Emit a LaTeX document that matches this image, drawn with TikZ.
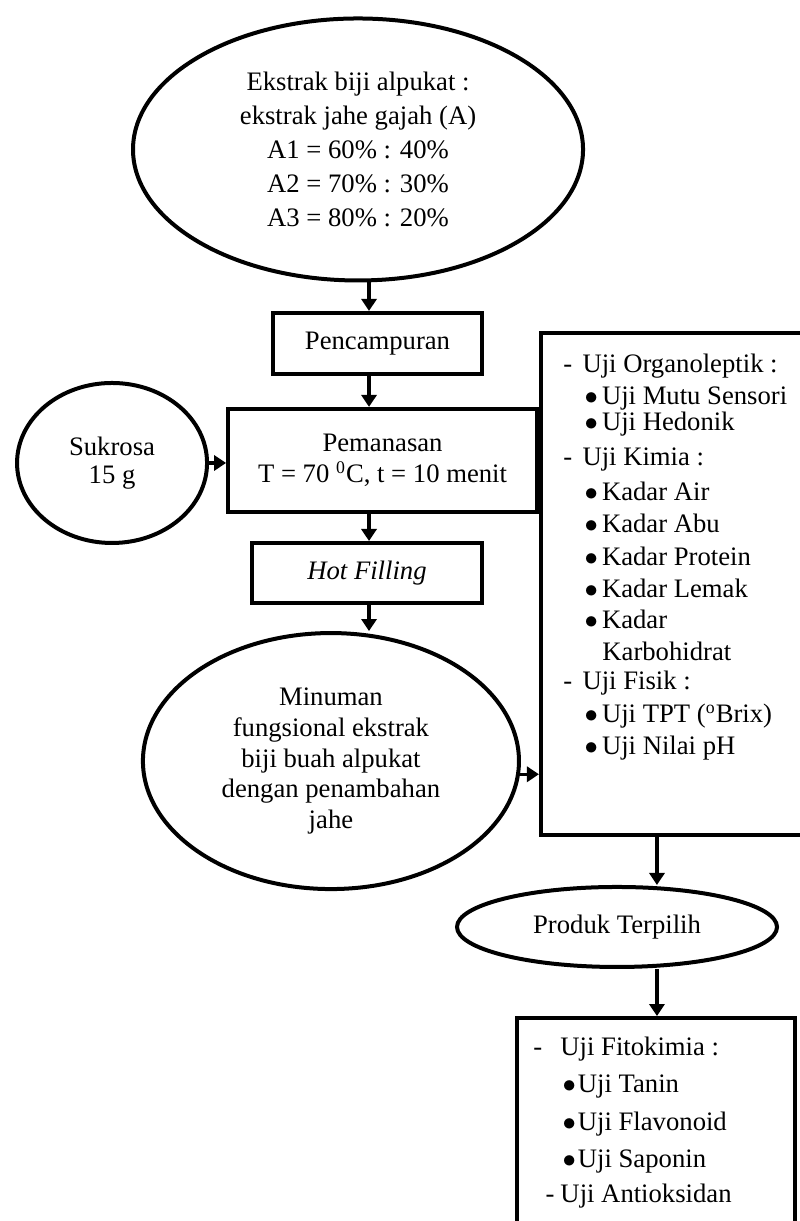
\documentclass[tikz,border=0pt]{standalone}
\usepackage{fontspec}
\setmainfont{Liberation Serif}
\usetikzlibrary{shapes.geometric,arrows.meta}
\newcommand{\strip}[1]{\makebox[#1][l]{-}}
\newcommand{\titik}[1]{\makebox[#1][l]{$\bullet$}}

\begin{document}
\begin{tikzpicture}[scale=0.2,
    kotak/.style={draw=black,line width=1.8pt,rectangle},
    lonjong/.style={draw=black,line width=1.8pt,ellipse,align=center},
    panah/.style={draw=black,line width=1.5pt,-{Triangle[length=5.4pt,width=6.8pt]}},
    baris/.style={anchor=base west}]
    \tikzstyle{every node}+=[inner sep=0pt,font=\fontsize{12}{14}\selectfont]
    \useasboundingbox (0,0) rectangle (63.26,-96.55);
    \clip (0,0) rectangle (63.26,-96.55);
    % alur utama
    \node [lonjong,minimum width=202.5pt,minimum height=117.9pt,font=\fontsize{12}{15.3}\selectfont] (atas) at (28.31,-11.82)
        {Ekstrak biji alpukat :\\ekstrak jahe gajah (A)\\A1 = 60\% : 40\%\\A2 = 70\% : 30\%\\A3 = 80\% : 20\%};
    \node [kotak,minimum width=94pt,minimum height=27.5pt] (campur) at (29.85,-27.16) {Pencampuran};
    \node [kotak,minimum width=139pt,minimum height=46.4pt,align=center] (panas) at (30.25,-36.41)
        {Pemanasan\\T = 70 \textsuperscript{0}C, t = 10 menit};
    \node [lonjong,minimum width=85.5pt,minimum height=72pt,font=\fontsize{12}{12.5}\selectfont] (gula) at (8.86,-36.61) {Sukrosa\\15 g};
    \node [kotak,minimum width=103.5pt,minimum height=27pt] (isi) at (29.02,-45.31) {\textit{Hot Filling}};
    \node [lonjong,minimum width=169.2pt,minimum height=115.2pt,font=\fontsize{12}{13.8}\selectfont] (minum) at (26.17,-60.18)
        {Minuman\\fungsional ekstrak\\biji buah alpukat\\dengan penambahan\\jahe};
    % pengujian
    \node [kotak,minimum width=125.6pt,minimum height=225.9pt] (uji) at (53.81,-46.18) {};
    \node [baris] (u1) at (44.52,-29.42) {\strip{8.6pt}Uji Organoleptik :};
    \node [baris] (u2) at (46.20,-31.95) {\titik{7.8pt}Uji Mutu Sensori};
    \node [baris] (u3) at (46.20,-34.05) {\titik{7.8pt}Uji Hedonik};
    \node [baris] (u4) at (44.52,-36.77) {\strip{8.6pt}Uji Kimia :};
    \node [baris] (u5) at (46.20,-39.54) {\titik{7.8pt}Kadar Air};
    \node [baris] (u6) at (46.20,-42.07) {\titik{7.8pt}Kadar Abu};
    \node [baris] (u7) at (46.20,-44.68) {\titik{7.8pt}Kadar Protein};
    \node [baris] (u8) at (46.20,-47.21) {\titik{7.8pt}Kadar Lemak};
    \node [baris] (u9) at (46.20,-49.66) {\titik{7.8pt}Kadar};
    \node [baris] (u10) at (47.60,-52.19) {Karbohidrat};
    \node [baris] (u11) at (44.52,-54.56) {\strip{8.6pt}Uji Fisik :};
    \node [baris] (u12) at (46.20,-57.17) {\titik{7.8pt}Uji TPT (\textsuperscript{o}Brix)};
    \node [baris] (u13) at (46.20,-59.70) {\titik{7.8pt}Uji Nilai pH};
    \node [lonjong,minimum width=144pt,minimum height=36pt] (pilih) at (48.79,-73.30) {Produk Terpilih};
    \node [kotak,minimum width=125.1pt,minimum height=108.9pt] (akhir) at (51.87,-90.07) {};
    \node [baris] (f1) at (42.15,-83.43) {\strip{12.15pt}Uji Fitokimia :};
    \node [baris] (f2) at (44.45,-86.35) {\titik{6.9pt}Uji Tanin};
    \node [baris] (f3) at (44.45,-89.36) {\titik{6.9pt}Uji Flavonoid};
    \node [baris] (f4) at (44.45,-92.28) {\titik{6.9pt}Uji Saponin};
    \node [baris] (f5) at (43.10,-95.05) {\strip{6.75pt}Uji Antioksidan};
    % panah
    \coordinate (poros) at (29.18,0);
    \coordinate (kolom) at (51.95,0);
    \draw [panah] (poros |- atas.south) -- (poros |- campur.north);
    \draw [panah] (poros |- campur.south) -- (poros |- panas.north);
    \draw [panah] (gula.east) -- (gula.east -| panas.west);
    \draw [panah] (poros |- panas.south) -- (poros |- isi.north);
    \draw [panah] (poros |- isi.south) -- (poros |- minum.north);
    \draw [panah] (minum.-4) -- (minum.-4 -| uji.west);
    \draw [panah] (kolom |- uji.south) -- (kolom |- pilih.north);
    \draw [panah] (kolom |- pilih.south) -- (kolom |- akhir.north);
\end{tikzpicture}
\end{document}
